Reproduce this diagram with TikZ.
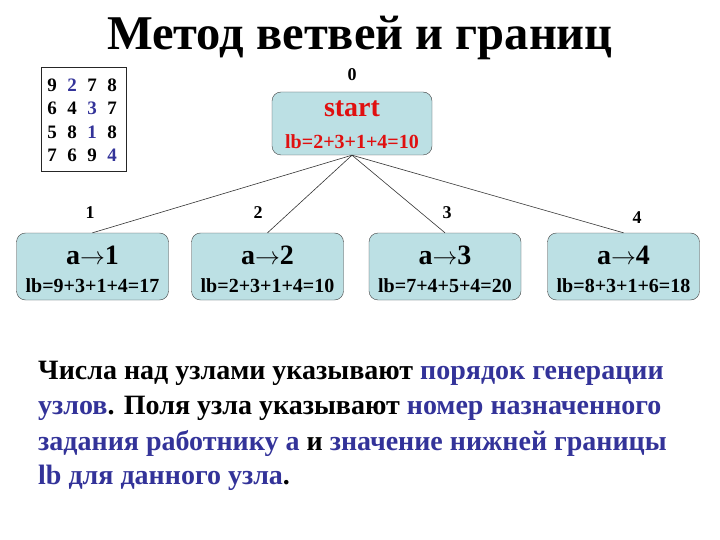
\documentclass[tikz,border=0pt]{standalone}
\usepackage{fontspec}
\setmainfont{Liberation Serif}
\definecolor{boxfill}{HTML}{BCE0E4}
\definecolor{darkblue}{HTML}{333399}
\definecolor{startred}{HTML}{E01010}
\newcommand\hl[1]{\textcolor{darkblue}{#1}}
\begin{document}
\begin{tikzpicture}[x=1pt,y=-1pt,
  box/.style={draw=black!75,fill=boxfill,rounded corners=9pt,minimum width=152pt,minimum height=67pt,inner sep=0pt},
  num/.style={font=\bfseries\fontsize{18}{18}\selectfont},
  cell/.style={font=\bfseries\fontsize{19}{19}\selectfont,inner sep=0pt},
  big/.style={font=\bfseries\fontsize{28}{28}\selectfont,anchor=base,inner sep=0pt},
  small/.style={font=\bfseries\fontsize{20}{20}\selectfont,anchor=base,inner sep=0pt},
  para/.style={font=\bfseries\fontsize{28}{28}\selectfont,anchor=base west,inner sep=0pt}]
\useasboundingbox (0,0) rectangle (720,540);
% заголовок
\node[font=\bfseries\fontsize{48.5}{48.5}\selectfont] (title) at (360,38) {Метод ветвей и границ};
% матрица стоимостей
\draw[black!85] (41,67) rectangle (126,171);
\foreach \row [count=\r] in {{9,\hl{2},7,8},{6,4,\hl{3},7},{5,8,\hl{1},8},{7,6,9,\hl{4}}}
  \foreach \v [count=\c] in \row
    \node[cell] (m-\r-\c) at (32+20*\c,62+23.3*\r) {\v};
% корень
\node[box,minimum width=160pt,minimum height=63pt] (root) at (352,123.5) {};
\node[big,text=startred] (root-t) at (352,117) {start};
\node[small,text=startred] (root-lb) at (352,149) {lb=2+3+1+4=10};
\node[num] (k0) at (352,75) {0};
% потомки
\foreach \x/\i/\lb in {92.5/1/9+3+1+4=17,267.5/2/2+3+1+4=10,445/3/7+4+5+4=20,623.5/4/8+3+1+6=18}{
  \node[box] (n\i) at (\x,266.5) {};
  \node[big] (n\i-t) at (\x,264) {a$\rightarrow$\i};
  \node[small] (n\i-lb) at (\x,292) {lb=\lb};
  \draw[black!80,line width=0.6pt] (root.south) -- (n\i.north);
}
\node[num] (k1) at (90,213) {1};
\node[num] (k2) at (258,213) {2};
\node[num] (k3) at (447,213) {3};
\node[num] (k4) at (637,218) {4};
% пояснение
\node[para] (p1) at (38,379) {Числа над узлами указывают \hl{порядок генерации}};
\node[para] (p2) at (38,414) {\hl{узлов}. Поля узла указывают \hl{номер назначенного}};
\node[para] (p3) at (38,450) {\hl{задания работнику a} и \hl{значение нижней границы}};
\node[para] (p4) at (38,484) {\hl{lb для данного узла}.};
\end{tikzpicture}
\end{document}
